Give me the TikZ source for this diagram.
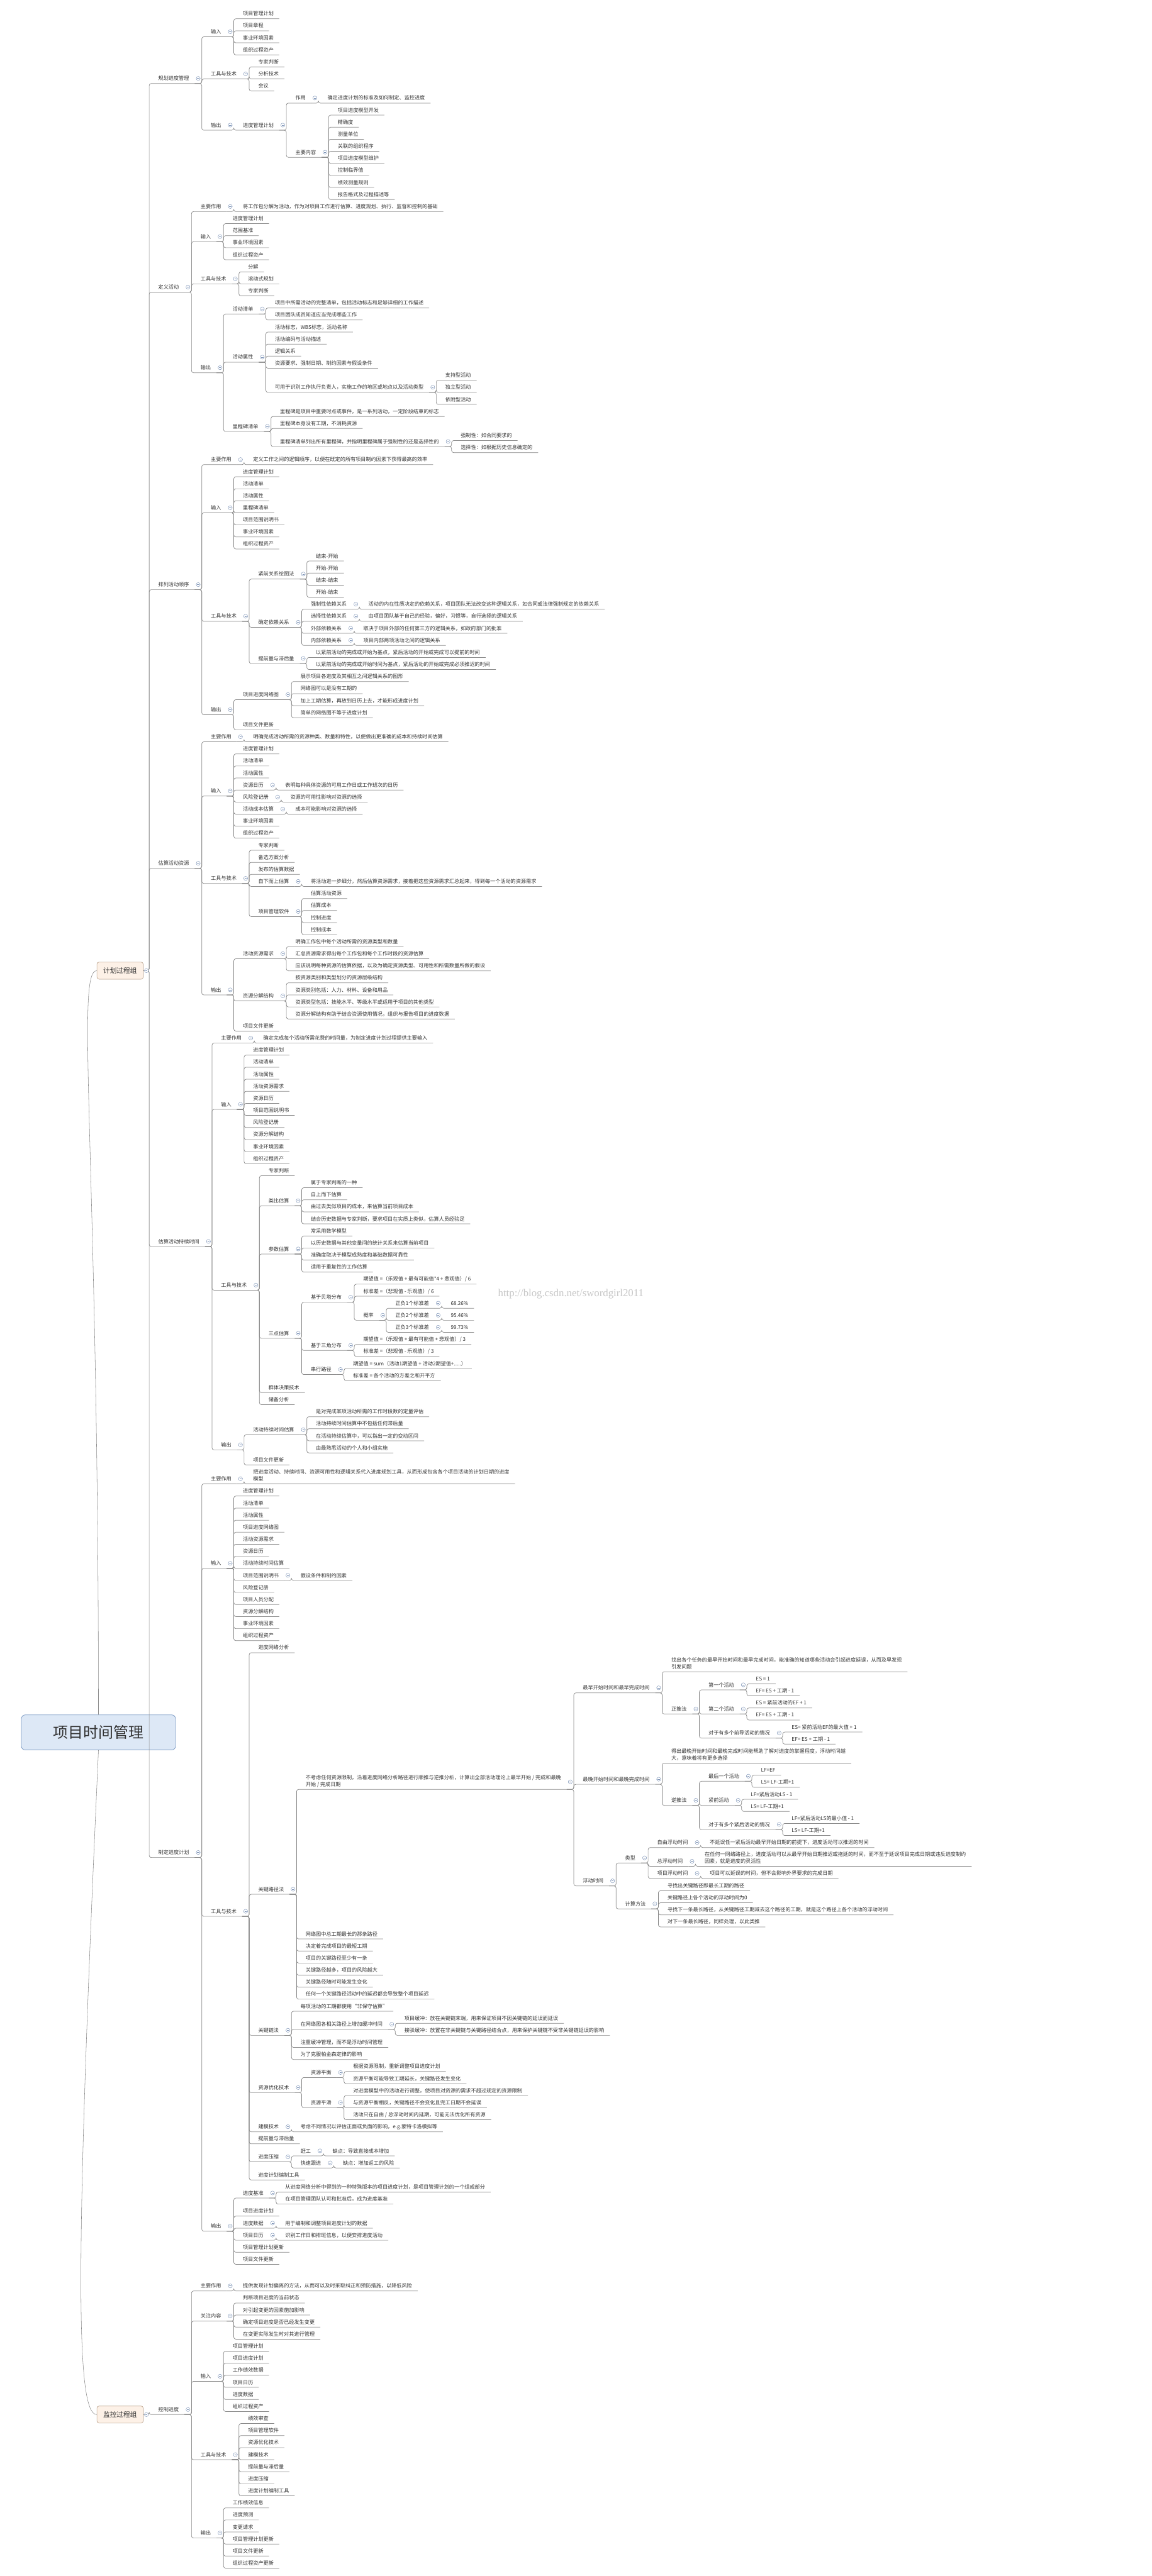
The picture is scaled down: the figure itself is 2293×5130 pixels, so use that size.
\documentclass[tikz,border=0pt]{standalone}
\usepackage{fontspec}
\setmainfont{Noto Sans CJK SC}
\newfontfamily\markfont{Liberation Serif}

\definecolor{linec}{HTML}{8A8A8A}
\definecolor{textc}{HTML}{333333}
\definecolor{foldc}{HTML}{7F95B8}
\definecolor{rootfill}{HTML}{DDE8F6}
\definecolor{rootdraw}{HTML}{7D9BC4}
\definecolor{grpfill}{HTML}{FDF1E7}
\definecolor{grpdraw}{HTML}{B8A08A}

\tikzset{
  item/.style={anchor=south west, inner sep=0pt, text height=13.8pt, text depth=6pt,
    text=textc, font=\fontsize{10.2}{14}\selectfont,
    execute at begin node=\hspace*{18pt}, execute at end node=\hspace*{11pt}},
  two/.style={text height=},
  link/.style={draw=linec, line width=0.9pt, rounded corners=4pt},
  dot/.style={circle, draw=foldc, fill=white, line width=0.6pt, inner sep=0pt, minimum size=8pt,
    path picture={\draw[foldc, line width=0.6pt] ([xshift=-2pt]path picture bounding box.center)
      -- ([xshift=2pt]path picture bounding box.center);}},
  grpbox/.style={rounded corners=4pt, draw=grpdraw, line width=0.8pt, fill=grpfill,
    minimum width=92pt, minimum height=34pt, inner sep=0pt, text=textc,
    font=\fontsize{13.4}{16}\selectfont},
  rootbox/.style={rounded corners=8pt, draw=rootdraw, line width=1pt, fill=rootfill,
    minimum width=307pt, minimum height=70pt, text=textc, font=\fontsize{30}{36}\selectfont},
  curve/.style={draw=linec, line width=0.7pt},
  wm/.style={anchor=west, text=gray!45, font=\markfont\fontsize{21}{24}\selectfont}
}

% child topic: [options]{name}{parent}{y}{text}
\newcommand{\leaf}[5][]{%
  \path (#3.south east) ++(14pt,0pt) coordinate (t) (0,#4) coordinate (u);
  \node[item,#1] (#2) at (t |- u) {#5};
  \draw[link] (#3.south east) -| (#2.south west) -- (#2.south east);}
% same, with the fold mark
\newcommand{\branch}[5][]{\leaf[#1]{#2}{#3}{#4}{#5}%
  \node[dot] (#2-f) at ([xshift=7pt]#2.east) {};}
% process under a group box: {name}{box}{y}{text}
\newcommand{\stem}[4]{%
  \node[item] (#1) at (297,#3) {#4};
  \draw[link] (#2.east) -| (#1.south west) -- (#1.south east);
  \node[dot] (#1-f) at ([xshift=7pt]#1.east) {};}
\newcommand{\dbl}[2]{\begin{tabular}[b]{@{}l@{}}#1\\#2\end{tabular}}

\begin{document}
\begin{tikzpicture}[x=1pt, y=-1pt]
\useasboundingbox (0,0) rectangle (2293,5130);

% root and the two process groups
\node[rootbox] (root) at (196,3450) {项目时间管理};
\node[grpbox] (plan) at (239,1933) {计划过程组};
\node[grpbox] (mon) at (239,4808.5) {监控过程组};
\draw[curve] (root.north) .. controls (196,2300) and (150,1933) .. (plan.west);
\draw[curve] (root.south) .. controls (150,4500) and (150,4808.5) .. (mon.west);

% 规划进度管理
\stem{p1}{plan}{166.3}{规划进度管理}
\branch{p1a}{p1}{73.3}{输入}
\leaf{p1a1}{p1a}{37.3}{项目管理计划}
\leaf{p1a2}{p1a}{61.3}{项目章程}
\leaf{p1a3}{p1a}{85.3}{事业环境因素}
\leaf{p1a4}{p1a}{109.3}{组织过程资产}
\branch{p1b}{p1}{157.3}{工具与技术}
\leaf{p1b1}{p1b}{133.3}{专家判断}
\leaf{p1b2}{p1b}{157.3}{分析技术}
\leaf{p1b3}{p1b}{181.3}{会议}
\branch{p1c}{p1}{259.3}{输出}
\branch{p1c1}{p1c}{259.3}{进度管理计划}
\branch{p1c1a}{p1c1}{205.3}{作用}
\leaf{p1c1a1}{p1c1a}{205.3}{确定进度计划的标准及如何制定、监控进度}
\branch{p1c1b}{p1c1}{313.3}{主要内容}
\leaf{p1c1b1}{p1c1b}{229.3}{项目进度模型开发}
\leaf{p1c1b2}{p1c1b}{253.3}{精确度}
\leaf{p1c1b3}{p1c1b}{277.3}{测量单位}
\leaf{p1c1b4}{p1c1b}{301.3}{关联的组织程序}
\leaf{p1c1b5}{p1c1b}{325.3}{项目进度模型维护}
\leaf{p1c1b6}{p1c1b}{349.3}{控制临界值}
\leaf{p1c1b7}{p1c1b}{373.3}{绩效测量规则}
\leaf{p1c1b8}{p1c1b}{397.3}{报告格式及过程描述等}

% 定义活动
\stem{p2}{plan}{581.8}{定义活动}
\branch{p2a}{p2}{421.3}{主要作用}
\leaf{p2a1}{p2a}{421.3}{将工作包分解为活动，作为对项目工作进行估算、进度规划、执行、监督和控制的基础}
\branch{p2b}{p2}{481.3}{输入}
\leaf{p2b1}{p2b}{445.3}{进度管理计划}
\leaf{p2b2}{p2b}{469.3}{范围基准}
\leaf{p2b3}{p2b}{493.3}{事业环境因素}
\leaf{p2b4}{p2b}{517.3}{组织过程资产}
\branch{p2c}{p2}{565.3}{工具与技术}
\leaf{p2c1}{p2c}{541.3}{分解}
\leaf{p2c2}{p2c}{565.3}{滚动式规划}
\leaf{p2c3}{p2c}{589.3}{专家判断}
\branch{p2d}{p2}{742.3}{输出}
\branch{p2d1}{p2d}{625.3}{活动清单}
\leaf{p2d11}{p2d1}{613.3}{项目中所需活动的完整清单，包括活动标志和足够详细的工作描述}
\leaf{p2d12}{p2d1}{637.3}{项目团队成员知道应当完成哪些工作}
\branch{p2d2}{p2d}{721.3}{活动属性}
\leaf{p2d21}{p2d2}{661.3}{活动标志，WBS标志，活动名称}
\leaf{p2d22}{p2d2}{685.3}{活动编码与活动描述}
\leaf{p2d23}{p2d2}{709.3}{逻辑关系}
\leaf{p2d24}{p2d2}{733.3}{资源要求、强制日期、制约因素与假设条件}
\branch{p2d25}{p2d2}{781.3}{可用于识别工作执行负责人，实施工作的地区或地点以及活动类型}
\leaf{p2d251}{p2d25}{757.3}{支持型活动}
\leaf{p2d252}{p2d25}{781.3}{独立型活动}
\leaf{p2d253}{p2d25}{805.3}{依附型活动}
\branch{p2d3}{p2d}{859.3}{里程碑清单}
\leaf{p2d31}{p2d3}{829.3}{里程碑是项目中重要时点或事件，是一系列活动，一定阶段结束的标志}
\leaf{p2d32}{p2d3}{853.3}{里程碑本身没有工期，不消耗资源}
\branch{p2d33}{p2d3}{889.3}{里程碑清单列出所有里程碑，并指明里程碑属于强制性的还是选择性的}
\leaf{p2d331}{p2d33}{877.3}{强制性：如合同要求的}
\leaf{p2d332}{p2d33}{901.3}{选择性：如根据历史信息确定的}

% 排列活动顺序
\stem{p3}{plan}{1174.3}{排列活动顺序}
\branch{p3a}{p3}{925.3}{主要作用}
\leaf{p3a1}{p3a}{925.3}{定义工作之间的逻辑顺序，以便在既定的所有项目制约因素下获得最高的效率}
\branch{p3b}{p3}{1021.3}{输入}
\leaf{p3b1}{p3b}{949.3}{进度管理计划}
\leaf{p3b2}{p3b}{973.3}{活动清单}
\leaf{p3b3}{p3b}{997.3}{活动属性}
\leaf{p3b4}{p3b}{1021.3}{里程碑清单}
\leaf{p3b5}{p3b}{1045.3}{项目范围说明书}
\leaf{p3b6}{p3b}{1069.3}{事业环境因素}
\leaf{p3b7}{p3b}{1093.3}{组织过程资产}
\branch{p3c}{p3}{1237.3}{工具与技术}
\branch{p3c1}{p3c}{1153.3}{紧前关系绘图法}
\leaf{p3c11}{p3c1}{1117.3}{结束-开始}
\leaf{p3c12}{p3c1}{1141.3}{开始-开始}
\leaf{p3c13}{p3c1}{1165.3}{结束-结束}
\leaf{p3c14}{p3c1}{1189.3}{开始-结束}
\branch{p3c2}{p3c}{1249.3}{确定依赖关系}
\branch{p3c21}{p3c2}{1213.3}{强制性依赖关系}
\leaf{p3c211}{p3c21}{1213.3}{活动的内在性质决定的依赖关系，项目团队无法改变这种逻辑关系，如合同或法律强制规定的依赖关系}
\branch{p3c22}{p3c2}{1237.3}{选择性依赖关系}
\leaf{p3c221}{p3c22}{1237.3}{由项目团队基于自己的经验，偏好，习惯等，自行选择的逻辑关系}
\branch{p3c23}{p3c2}{1261.3}{外部依赖关系}
\leaf{p3c231}{p3c23}{1261.3}{取决于项目外部的任何第三方的逻辑关系，如政府部门的批准}
\branch{p3c24}{p3c2}{1285.3}{内部依赖关系}
\leaf{p3c241}{p3c24}{1285.3}{项目内部两项活动之间的逻辑关系}
\branch{p3c3}{p3c}{1321.3}{提前量与滞后量}
\leaf{p3c31}{p3c3}{1309.3}{以紧前活动的完成或开始为基点，紧后活动的开始或完成可以提前的时间}
\leaf{p3c32}{p3c3}{1333.3}{以紧前活动的完成或开始时间为基点，紧后活动的开始或完成必须推迟的时间}
\branch{p3d}{p3}{1423.3}{输出}
\branch{p3d1}{p3d}{1393.3}{项目进度网络图}
\leaf{p3d11}{p3d1}{1357.3}{展示项目各进度及其相互之间逻辑关系的图形}
\leaf{p3d12}{p3d1}{1381.3}{网络图可以是没有工期的}
\leaf{p3d13}{p3d1}{1405.3}{加上工期估算，再放到日历上去，才能形成进度计划}
\leaf{p3d14}{p3d1}{1429.3}{简单的网络图不等于进度计划}
\leaf{p3d2}{p3d}{1453.3}{项目文件更新}

% 估算活动资源
\stem{p4}{plan}{1729.3}{估算活动资源}
\branch{p4a}{p4}{1477.3}{主要作用}
\leaf{p4a1}{p4a}{1477.3}{明确完成活动所需的资源种类、数量和特性，以便做出更准确的成本和持续时间估算}
\branch{p4b}{p4}{1585.3}{输入}
\leaf{p4b1}{p4b}{1501.3}{进度管理计划}
\leaf{p4b2}{p4b}{1525.3}{活动清单}
\leaf{p4b3}{p4b}{1549.3}{活动属性}
\branch{p4b4}{p4b}{1573.3}{资源日历}
\leaf{p4b41}{p4b4}{1573.3}{表明每种具体资源的可用工作日或工作班次的日历}
\branch{p4b5}{p4b}{1597.3}{风险登记册}
\leaf{p4b51}{p4b5}{1597.3}{资源的可用性影响对资源的选择}
\branch{p4b6}{p4b}{1621.3}{活动成本估算}
\leaf{p4b61}{p4b6}{1621.3}{成本可能影响对资源的选择}
\leaf{p4b7}{p4b}{1645.3}{事业环境因素}
\leaf{p4b8}{p4b}{1669.3}{组织过程资产}
\branch{p4c}{p4}{1759.3}{工具与技术}
\leaf{p4c1}{p4c}{1693.3}{专家判断}
\leaf{p4c2}{p4c}{1717.3}{备选方案分析}
\leaf{p4c3}{p4c}{1741.3}{发布的估算数据}
\branch{p4c4}{p4c}{1765.3}{自下而上估算}
\leaf{p4c41}{p4c4}{1765.3}{将活动进一步细分，然后估算资源需求，接着把这些资源需求汇总起来，得到每一个活动的资源需求}
\branch{p4c5}{p4c}{1825.3}{项目管理软件}
\leaf{p4c51}{p4c5}{1789.3}{估算活动资源}
\leaf{p4c52}{p4c5}{1813.3}{估算成本}
\leaf{p4c53}{p4c5}{1837.3}{控制进度}
\leaf{p4c54}{p4c5}{1861.3}{控制成本}
\branch{p4d}{p4}{1981.3}{输出}
\branch{p4d1}{p4d}{1909.3}{活动资源需求}
\leaf{p4d11}{p4d1}{1885.3}{明确工作包中每个活动所需的资源类型和数量}
\leaf{p4d12}{p4d1}{1909.3}{汇总资源需求得出每个工作包和每个工作时段的资源估算}
\leaf{p4d13}{p4d1}{1933.3}{应该说明每种资源的估算依据，以及为确定资源类型、可用性和所需数量所做的假设}
\branch{p4d2}{p4d}{1993.3}{资源分解结构}
\leaf{p4d21}{p4d2}{1957.3}{按资源类别和类型划分的资源层级结构}
\leaf{p4d22}{p4d2}{1981.3}{资源类别包括：人力、材料、设备和用品}
\leaf{p4d23}{p4d2}{2005.3}{资源类型包括：技能水平、等级水平或适用于项目的其他类型}
\leaf{p4d24}{p4d2}{2029.3}{资源分解结构有助于结合资源使用情况，组织与报告项目的进度数据}
\leaf{p4d3}{p4d}{2053.3}{项目文件更新}

% 估算活动持续时间
\stem{p5}{plan}{2482.3}{估算活动持续时间}
\branch{p5a}{p5}{2077.3}{主要作用}
\leaf{p5a1}{p5a}{2077.3}{确定完成每个活动所需花费的时间量，为制定进度计划过程提供主要输入}
\branch{p5b}{p5}{2209.3}{输入}
\leaf{p5b1}{p5b}{2101.3}{进度管理计划}
\leaf{p5b2}{p5b}{2125.3}{活动清单}
\leaf{p5b3}{p5b}{2149.3}{活动属性}
\leaf{p5b4}{p5b}{2173.3}{活动资源需求}
\leaf{p5b5}{p5b}{2197.3}{资源日历}
\leaf{p5b6}{p5b}{2221.3}{项目范围说明书}
\leaf{p5b7}{p5b}{2245.3}{风险登记册}
\leaf{p5b8}{p5b}{2269.3}{资源分解结构}
\leaf{p5b9}{p5b}{2293.3}{事业环境因素}
\leaf{p5b10}{p5b}{2317.3}{组织过程资产}
\branch{p5c}{p5}{2569.3}{工具与技术}
\leaf{p5c1}{p5c}{2341.3}{专家判断}
\branch{p5c2}{p5c}{2401.3}{类比估算}
\leaf{p5c21}{p5c2}{2365.3}{属于专家判断的一种}
\leaf{p5c22}{p5c2}{2389.3}{自上而下估算}
\leaf{p5c23}{p5c2}{2413.3}{由过去类似项目的成本，来估算当前项目成本}
\leaf{p5c24}{p5c2}{2437.3}{结合历史数据与专家判断，要求项目在实质上类似，估算人员经验足}
\branch{p5c3}{p5c}{2497.3}{参数估算}
\leaf{p5c31}{p5c3}{2461.3}{常采用数学模型}
\leaf{p5c32}{p5c3}{2485.3}{以历史数据与其他变量间的统计关系来估算当前项目}
\leaf{p5c33}{p5c3}{2509.3}{准确度取决于模型成熟度和基础数据可靠性}
\leaf{p5c34}{p5c3}{2533.3}{适用于重复性的工作估算}
\branch{p5c4}{p5c}{2665.3}{三点估算}
\branch{p5c41}{p5c4}{2593.3}{基于贝塔分布}
\leaf{p5c411}{p5c41}{2557.3}{期望值 =（乐观值 + 最有可能值*4 + 悲观值）/ 6}
\leaf{p5c412}{p5c41}{2581.3}{标准差 =（悲观值 - 乐观值）/ 6}
\branch{p5c413}{p5c41}{2629.3}{概率}
\branch{p5c4131}{p5c413}{2605.3}{正负1个标准差}
\leaf{p5c4132}{p5c4131}{2605.3}{68.26\%}
\branch{p5c4133}{p5c413}{2629.3}{正负2个标准差}
\leaf{p5c4134}{p5c4133}{2629.3}{95.46\%}
\branch{p5c4135}{p5c413}{2653.3}{正负3个标准差}
\leaf{p5c4136}{p5c4135}{2653.3}{99.73\%}
\branch{p5c42}{p5c4}{2689.3}{基于三角分布}
\leaf{p5c421}{p5c42}{2677.3}{期望值 =（乐观值 + 最有可能值 + 悲观值）/ 3}
\leaf{p5c422}{p5c42}{2701.3}{标准差 =（悲观值 - 乐观值）/ 3}
\branch{p5c43}{p5c4}{2737.3}{串行路径}
\leaf{p5c431}{p5c43}{2725.3}{期望值 = sum（活动1期望值 + 活动2期望值+.....）}
\leaf{p5c432}{p5c43}{2749.3}{标准差 = 各个活动的方差之和开平方}
\leaf{p5c5}{p5c}{2773.3}{群体决策技术}
\leaf{p5c6}{p5c}{2797.3}{储备分析}
\branch{p5d}{p5}{2887.3}{输出}
\branch{p5d1}{p5d}{2857.3}{活动持续时间估算}
\leaf{p5d11}{p5d1}{2821.3}{是对完成某项活动所需的工作时段数的定量评估}
\leaf{p5d12}{p5d1}{2845.3}{活动持续时间估算中不包括任何滞后量}
\leaf{p5d13}{p5d1}{2869.3}{在活动持续估算中，可以指出一定的变动区间}
\leaf{p5d14}{p5d1}{2893.3}{由最熟悉活动的个人和小组实施}
\leaf{p5d2}{p5d}{2917.3}{项目文件更新}

% 制定进度计划
\stem{p6}{plan}{3699.2}{制定进度计划}
\branch{p6a}{p6}{2955}{主要作用}
\leaf[two]{p6a1}{p6a}{2955}{\dbl{把进度活动、持续时间、资源可用性和逻辑关系代入进度规划工具，从而形成包含各个项目活动的计划日期的进度}{模型}}
\branch{p6b}{p6}{3123.3}{输入}
\leaf{p6b1}{p6b}{2979.3}{进度管理计划}
\leaf{p6b2}{p6b}{3003.3}{活动清单}
\leaf{p6b3}{p6b}{3027.3}{活动属性}
\leaf{p6b4}{p6b}{3051.3}{项目进度网络图}
\leaf{p6b5}{p6b}{3075.3}{活动资源需求}
\leaf{p6b6}{p6b}{3099.3}{资源日历}
\leaf{p6b7}{p6b}{3123.3}{活动持续时间估算}
\branch{p6b8}{p6b}{3147.3}{项目范围说明书}
\leaf{p6b81}{p6b8}{3147.3}{假设条件和制约因素}
\leaf{p6b9}{p6b}{3171.3}{风险登记册}
\leaf{p6b10}{p6b}{3195.3}{项目人员分配}
\leaf{p6b11}{p6b}{3219.3}{资源分解结构}
\leaf{p6b12}{p6b}{3243.3}{事业环境因素}
\leaf{p6b13}{p6b}{3267.3}{组织过程资产}
\branch{p6c}{p6}{3816.3}{工具与技术}
\leaf{p6c1}{p6c}{3291.3}{进度网络分析}
\branch{p6c2}{p6c}{3772.4}{关键路径法}
\branch[two]{p6c21}{p6c2}{3563.5}{\dbl{不考虑任何资源限制，沿着进度网络分析路径进行顺推与逆推分析，计算出全部活动理论上最早开始 / 完成和最晚}{开始 / 完成日期}}
\branch{p6c211}{p6c21}{3371.3}{最早开始时间和最早完成时间}
\leaf[two]{p6c2111}{p6c211}{3329.3}{\dbl{找出各个任务的最早开始时间和最早完成时间，能准确的知道哪些活动会引起进度延误，从而及早发现}{引发问题}}
\branch{p6c2112}{p6c211}{3413.3}{正推法}
\branch{p6c21121}{p6c2112}{3365.3}{第一个活动}
\leaf{p6c211211}{p6c21121}{3353.3}{ES = 1}
\leaf{p6c211212}{p6c21121}{3377.3}{EF= ES + 工期 - 1}
\branch{p6c21122}{p6c2112}{3413.3}{第二个活动}
\leaf{p6c211221}{p6c21122}{3401.3}{ES = 紧前活动的EF + 1}
\leaf{p6c211222}{p6c21122}{3425.3}{EF= ES + 工期 - 1}
\branch{p6c21123}{p6c2112}{3461.3}{对于有多个前导活动的情况}
\leaf{p6c211231}{p6c21123}{3449.3}{ES= 紧前活动EF的最大值 + 1}
\leaf{p6c211232}{p6c21123}{3473.3}{EF= ES + 工期 - 1}
\branch{p6c212}{p6c21}{3553.3}{最晚开始时间和最晚完成时间}
\leaf[two]{p6c2121}{p6c212}{3511.3}{\dbl{得出最晚开始时间和最晚完成时间能帮助了解对进度的掌握程度，浮动时间越}{大，意味着将有更多选择}}
\branch{p6c2122}{p6c212}{3595.3}{逆推法}
\branch{p6c21221}{p6c2122}{3547.3}{最后一个活动}
\leaf{p6c212211}{p6c21221}{3535.3}{LF=EF}
\leaf{p6c212212}{p6c21221}{3559.3}{LS= LF-工期+1}
\branch{p6c21222}{p6c2122}{3595.3}{紧前活动}
\leaf{p6c212221}{p6c21222}{3583.3}{LF=紧后活动LS - 1}
\leaf{p6c212222}{p6c21222}{3607.3}{LS= LF-工期+1}
\branch{p6c21223}{p6c2122}{3643.3}{对于有多个紧后活动的情况}
\leaf{p6c212231}{p6c21223}{3631.3}{LF=紧后活动LS的最小值 - 1}
\leaf{p6c212232}{p6c21223}{3655.3}{LS= LF-工期+1}
\branch{p6c213}{p6c21}{3755.7}{浮动时间}
\branch{p6c2131}{p6c213}{3710}{类型}
\branch{p6c21311}{p6c2131}{3679.3}{自由浮动时间}
\leaf{p6c213111}{p6c21311}{3679.3}{不延误任一紧后活动最早开始日期的前提下，进度活动可以推迟的时间}
\branch{p6c21312}{p6c2131}{3716.7}{总浮动时间}
\leaf[two]{p6c213121}{p6c21312}{3716.7}{\dbl{在任何一网络路径上，进度活动可以从最早开始日期推迟或拖延的时间，而不至于延误项目完成日期或违反进度制约}{因素，就是进度的灵活性}}
\branch{p6c21313}{p6c2131}{3740.7}{项目浮动时间}
\leaf{p6c213131}{p6c21313}{3740.7}{项目可以延误的时间，但不会影响外界要求的完成日期}
\branch{p6c2132}{p6c213}{3801.3}{计算方法}
\leaf{p6c21321}{p6c2132}{3765.3}{寻找出关键路径即最长工期的路径}
\leaf{p6c21322}{p6c2132}{3789.3}{关键路径上各个活动的浮动时间为0}
\leaf{p6c21323}{p6c2132}{3813.3}{寻找下一条最长路径，从关键路径工期减去这个路径的工期，就是这个路径上各个活动的浮动时间}
\leaf{p6c21324}{p6c2132}{3837.3}{对下一条最长路径，同样处理，以此类推}
\leaf{p6c22}{p6c2}{3861.3}{网络图中总工期最长的那条路径}
\leaf{p6c23}{p6c2}{3885.3}{决定着完成项目的最短工期}
\leaf{p6c24}{p6c2}{3909.3}{项目的关键路径至少有一条}
\leaf{p6c25}{p6c2}{3933.3}{关键路径越多，项目的风险越大}
\leaf{p6c26}{p6c2}{3957.3}{关键路径随时可能发生变化}
\leaf{p6c27}{p6c2}{3981.3}{任何一个关键路径活动中的延迟都会导致整个项目延迟}
\branch{p6c3}{p6c}{4053.3}{关键链法}
\leaf{p6c31}{p6c3}{4005.3}{每项活动的工期都使用“非保守估算”}
\branch{p6c32}{p6c3}{4041.3}{在网络图各相关路径上增加缓冲时间}
\leaf{p6c321}{p6c32}{4029.3}{项目缓冲：放在关键链末端，用来保证项目不因关键链的延误而延误}
\leaf{p6c322}{p6c32}{4053.3}{接驳缓冲：放置在非关键链与关键路径结合点，用来保护关键链不受非关键链延误的影响}
\leaf{p6c33}{p6c3}{4077.3}{注重缓冲管理，而不是浮动时间管理}
\leaf{p6c34}{p6c3}{4101.3}{为了克服帕金森定律的影响}
\branch{p6c4}{p6c}{4167.3}{资源优化技术}
\branch{p6c41}{p6c4}{4137.3}{资源平衡}
\leaf{p6c411}{p6c41}{4125.3}{根据资源限制，重新调整项目进度计划}
\leaf{p6c412}{p6c41}{4149.3}{资源平衡可能导致工期延长，关键路径发生变化}
\branch{p6c42}{p6c4}{4197.3}{资源平滑}
\leaf{p6c421}{p6c42}{4173.3}{对进度模型中的活动进行调整，使项目对资源的需求不超过规定的资源限制}
\leaf{p6c422}{p6c42}{4197.3}{与资源平衡相反，关键路径不会变化且完工日期不会延误}
\leaf{p6c423}{p6c42}{4221.3}{活动只在自由 / 总浮动时间内延期，可能无法优化所有资源}
\branch{p6c5}{p6c}{4245.3}{建模技术}
\leaf{p6c51}{p6c5}{4245.3}{考虑不同情况以评估正面或负面的影响，e.g.蒙特卡洛模拟等}
\leaf{p6c6}{p6c}{4269.3}{提前量与滞后量}
\branch{p6c7}{p6c}{4305.3}{进度压缩}
\branch{p6c71}{p6c7}{4293.3}{赶工}
\leaf{p6c711}{p6c71}{4293.3}{缺点：导致直接成本增加}
\branch{p6c72}{p6c7}{4317.3}{快速跟进}
\leaf{p6c721}{p6c72}{4317.3}{缺点：增加返工的风险}
\leaf{p6c8}{p6c}{4341.3}{进度计划编制工具}
\branch{p6d}{p6}{4443.3}{输出}
\branch{p6d1}{p6d}{4377.3}{进度基准}
\leaf{p6d11}{p6d1}{4365.3}{从进度网络分析中得到的一种特殊版本的项目进度计划，是项目管理计划的一个组成部分}
\leaf{p6d12}{p6d1}{4389.3}{在项目管理团队认可和批准后，成为进度基准}
\leaf{p6d2}{p6d}{4413.3}{项目进度计划}
\branch{p6d3}{p6d}{4437.3}{进度数据}
\leaf{p6d31}{p6d3}{4437.3}{用于编制和调整项目进度计划的数据}
\branch{p6d4}{p6d}{4461.3}{项目日历}
\leaf{p6d41}{p6d4}{4461.3}{识别工作日和排班信息，以便安排进度活动}
\leaf{p6d5}{p6d}{4485.3}{项目管理计划更新}
\leaf{p6d6}{p6d}{4509.3}{项目文件更新}

% 控制进度
\stem{m1}{mon}{4808.5}{控制进度}
\branch{m1a}{m1}{4562.3}{主要作用}
\leaf{m1a1}{m1a}{4562.3}{提供发现计划偏离的方法，从而可以及时采取纠正和预防措施，以降低风险}
\branch{m1b}{m1}{4622.3}{关注内容}
\leaf{m1b1}{m1b}{4586.3}{判断项目进度的当前状态}
\leaf{m1b2}{m1b}{4610.3}{对引起变更的因素施加影响}
\leaf{m1b3}{m1b}{4634.3}{确定项目进度是否已经发生变更}
\leaf{m1b4}{m1b}{4658.3}{在变更实际发生时对其进行管理}
\branch{m1c}{m1}{4742.3}{输入}
\leaf{m1c1}{m1c}{4682.3}{项目管理计划}
\leaf{m1c2}{m1c}{4706.3}{项目进度计划}
\leaf{m1c3}{m1c}{4730.3}{工作绩效数据}
\leaf{m1c4}{m1c}{4754.3}{项目日历}
\leaf{m1c5}{m1c}{4778.3}{进度数据}
\leaf{m1c6}{m1c}{4802.3}{组织过程资产}
\branch{m1d}{m1}{4898.3}{工具与技术}
\leaf{m1d1}{m1d}{4826.3}{绩效审查}
\leaf{m1d2}{m1d}{4850.3}{项目管理软件}
\leaf{m1d3}{m1d}{4874.3}{资源优化技术}
\leaf{m1d4}{m1d}{4898.3}{建模技术}
\leaf{m1d5}{m1d}{4922.3}{提前量与滞后量}
\leaf{m1d6}{m1d}{4946.3}{进度压缩}
\leaf{m1d7}{m1d}{4970.3}{进度计划编制工具}
\branch{m1e}{m1}{5054.3}{输出}
\leaf{m1e1}{m1e}{4994.3}{工作绩效信息}
\leaf{m1e2}{m1e}{5018.3}{进度预测}
\leaf{m1e3}{m1e}{5042.3}{变更请求}
\leaf{m1e4}{m1e}{5066.3}{项目管理计划更新}
\leaf{m1e5}{m1e}{5090.3}{项目文件更新}
\leaf{m1e6}{m1e}{5114.3}{组织过程资产更新}

% fold marks on the group boxes
\node[dot] (plan-f) at ([xshift=6pt]plan.east) {};
\node[dot] (mon-f) at ([xshift=6pt]mon.east) {};

% watermark
\node[wm] (mark1) at (988,2577) {http://blog.csdn.net/swordgirl2011};
\end{tikzpicture}
\end{document}
